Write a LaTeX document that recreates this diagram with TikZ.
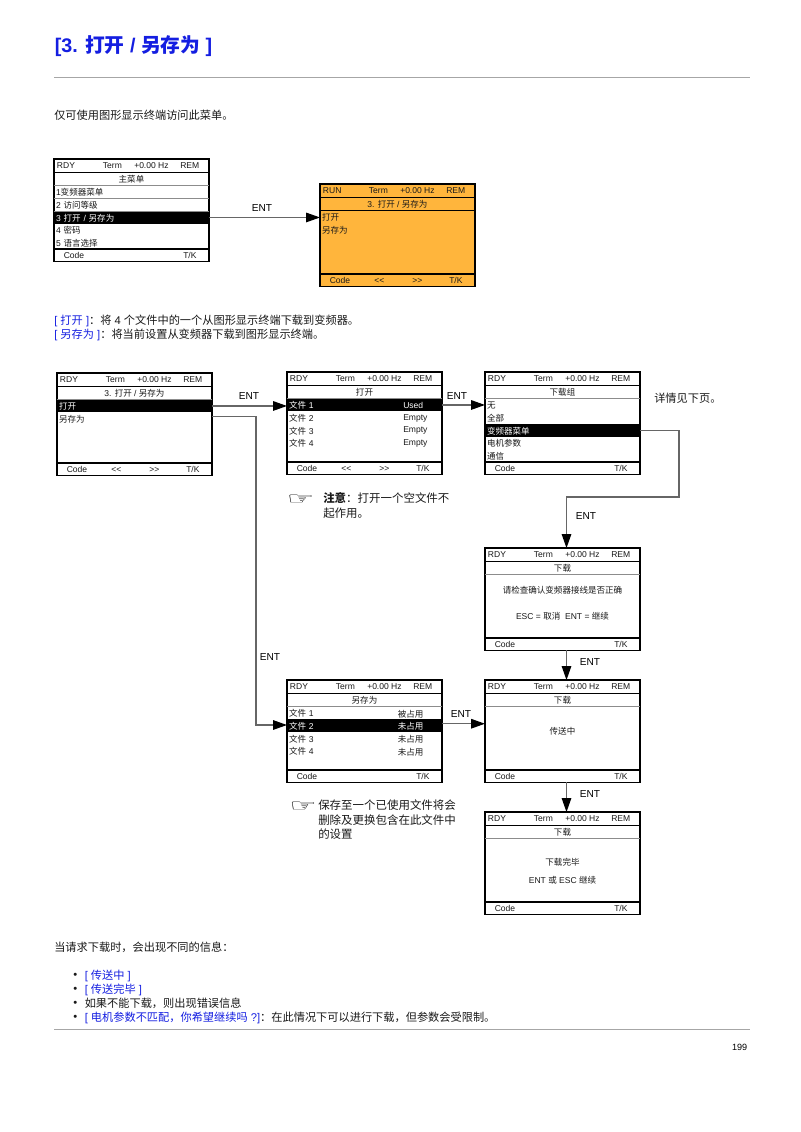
\documentclass[tikz,border=0pt]{standalone}
\usepackage{fontspec}
\setmainfont{Liberation Sans}
\newfontfamily\cjk{Noto Sans CJK SC}
\newfontfamily\symfont{DejaVu Sans}
\usetikzlibrary{arrows.meta}

\definecolor{pageblue}{RGB}{20,30,225}
\definecolor{lcdorange}{RGB}{255,181,60}

\newcommand{\zh}[1]{{\cjk #1}}

% one terminal screen: name, x, y, status, title
\newcommand{\lcdscreen}[6][white]{%
    \begin{scope}[shift={(#3,#4)}]
        \node[lcd box, fill=#1] (#2) at (0,0) {};
        \draw[lcd line] (0,13.3) -- (155,13.3);
        \draw[lcd line] (0,90) -- (155,90);
        \node[lcd text] (#2-st) at (2.7,6) {#5};
        \node[lcd text] (#2-term) at (48.7,6) {Term};
        \node[lcd text] (#2-hz) at (80,6) {+0.00 Hz};
        \node[lcd text] (#2-rem) at (126,6) {REM};
        \node[lcd title] (#2-title) at (77.5,20.4) {#6};
        \draw[title line] (#2-title.south west) -- (#2-title.south east);
        \node[lcd text] (#2-code) at (9.5,95.8) {Code};
        \node[lcd text] (#2-tk) at (129,95.8) {T/K};
    \end{scope}
}

\newcommand{\lcdarrows}[3]{%
    \begin{scope}[shift={(#2,#3)}]
        \node[lcd text] (#1-prev) at (54,95.8) {{<}{<}};
        \node[lcd text] (#1-next) at (92,95.8) {{>}{>}};
    \end{scope}
}

% one menu row: style, screen name, x, y, row number, text
\newcommand{\lcdrow}[6][lcd row]{%
    \begin{scope}[shift={(#3,#4)}]
        \node[#1, yshift={(#5-1)*-9.56pt}] (#2-r#5) at (0,26.6) {#6};
    \end{scope}
}

\begin{document}
\begin{tikzpicture}[x=0.75pt,y=-0.75pt]
    \tikzset{
        lcd box/.style={draw=black, line width=0.8pt, anchor=north west, minimum width=116.25pt, minimum height=76.8pt, inner sep=0pt, outer sep=0pt},
        lcd line/.style={draw=black, line width=0.8pt},
        title line/.style={draw=black!45, line width=0.8pt},
        lcd text/.style={anchor=west, inner sep=0pt, yshift=-0.6pt, font=\fontsize{6.4}{7.5}\selectfont, text=black!90},
        lcd title/.style={minimum width=116.25pt, minimum height=8.5pt, inner sep=0pt, outer sep=0pt, font=\fontsize{6.4}{7.5}\selectfont, text=black!90},
        lcd row/.style={anchor=north west, minimum height=9.56pt, text width=113.25pt, inner xsep=1.5pt, inner ysep=0pt, outer sep=0pt, align=left, text height=6.2pt, text depth=0.7pt, font=\fontsize{6.4}{7.5}\selectfont, text=black!90},
        lcd sel/.style={lcd row, fill=black, text=white},
        ent arrow/.style={draw=black!60, line width=0.85pt, -{Triangle[color=black, fill=black, length=10.5pt, width=7.2pt]}},
        ent label/.style={inner sep=0pt, font=\fontsize{7.6}{9}\selectfont},
        body text/.style={anchor=west, inner sep=0pt, align=left, yshift=-0.6pt, font=\fontsize{8.4}{10.8}\selectfont, text=black!90},
        note text/.style={body text, font=\fontsize{8.6}{10.9}\selectfont},
        blue text/.style={body text, text=pageblue},
        hand/.style={inner sep=0pt, font=\symfont\fontsize{20}{20}\selectfont},
        page rule/.style={draw=black!35, line width=0.75pt},
    }

    \useasboundingbox (0,0) rectangle (800,1132);
    \fill[white] (0,0) rectangle (800,1132);

    % page head
    \node[anchor=west, inner sep=0pt, text=pageblue, font=\bfseries\fontsize{14.8}{16}\selectfont] (pageTitle) at (54.5,46)
        {[3. {\cjk\bfseries 打开} / {\cjk\bfseries 另存为} ]};
    \coordinate (ruleTopL) at (54,77);
    \coordinate (ruleTopR) at (750,77);
    \draw[page rule] (ruleTopL) -- (ruleTopR);
    \node[body text] (introLine) at (54,114.5) {\zh{仅可使用图形显示终端访问此菜单。}};

    % first pair
    \lcdscreen{scrMain}{54}{159}{RDY}{\zh{主菜单}}
    \lcdrow{scrMain}{54}{159}{1}{1\zh{变频器菜单}}
    \lcdrow{scrMain}{54}{159}{2}{2 \zh{访问等级}}
    \lcdrow[lcd sel]{scrMain}{54}{159}{3}{3 \zh{打开} / \zh{另存为}}
    \lcdrow{scrMain}{54}{159}{4}{4 \zh{密码}}
    \lcdrow{scrMain}{54}{159}{5}{5 \zh{语言选择}}
    \draw[title line] (scrMain-r1.south west) -- (scrMain-r1.south east);
    \draw[title line] (scrMain-r2.south west) -- (scrMain-r2.south east);

    \lcdscreen[lcdorange]{scrOrange}{320}{184}{RUN}{3. \zh{打开} / \zh{另存为}}
    \lcdarrows{scrOrange}{320}{184}
    \draw[lcd line] (scrOrange-title.south west) -- (scrOrange-title.south east);
    \lcdrow{scrOrange}{320}{184}{1}{\zh{打开}}
    \lcdrow{scrOrange}{320}{184}{2}{\zh{另存为}}

    \draw[ent arrow] (scrMain-r3.east) -- (scrMain-r3.east -| scrOrange.west);
    \node[ent label] (entA) at (262,208) {ENT};

    \node[body text] (openLine) at (54,320) {{\color{pageblue}[ \zh{打开} ]}\zh{：将} 4 \zh{个文件中的一个从图形显示终端下载到变频器。}};
    \node[body text] (saveLine) at (54,334) {{\color{pageblue}[ \zh{另存为} ]}\zh{：将当前设置从变频器下载到图形显示终端。}};

    % open / save as menu
    \lcdscreen{scrFile}{57}{373}{RDY}{3. \zh{打开} / \zh{另存为}}
    \lcdarrows{scrFile}{57}{373}
    \lcdrow[lcd sel]{scrFile}{57}{373}{1}{\zh{打开}}
    \lcdrow{scrFile}{57}{373}{2}{\zh{另存为}}

    % open branch
    \lcdscreen{scrOpen}{287}{372}{RDY}{\zh{打开}}
    \lcdarrows{scrOpen}{287}{372}
    \lcdrow[lcd sel]{scrOpen}{287}{372}{1}{\zh{文件} 1}
    \lcdrow{scrOpen}{287}{372}{2}{\zh{文件} 2}
    \lcdrow{scrOpen}{287}{372}{3}{\zh{文件} 3}
    \lcdrow{scrOpen}{287}{372}{4}{\zh{文件} 4}
    \node[lcd text, text=white] (openUsed) at (403,404.5) {Used};
    \node[lcd text] (openEmptyB) at (403,417.5) {Empty};
    \node[lcd text] (openEmptyC) at (403,430) {Empty};
    \node[lcd text] (openEmptyD) at (403,443) {Empty};

    \lcdscreen{scrGroup}{485}{372}{RDY}{\zh{下载组}}
    \lcdrow{scrGroup}{485}{372}{1}{\zh{无}}
    \lcdrow{scrGroup}{485}{372}{2}{\zh{全部}}
    \lcdrow[lcd sel]{scrGroup}{485}{372}{3}{\zh{变频器菜单}}
    \lcdrow{scrGroup}{485}{372}{4}{\zh{电机参数}}
    \lcdrow{scrGroup}{485}{372}{5}{\zh{通信}}
    \node[body text] (seeNext) at (654,397) {\zh{详情见下页。}};

    \lcdscreen{scrCheck}{485}{548}{RDY}{\zh{下载}}
    \node[lcd title] (checkLineA) at (562.5,590) {\zh{请检查确认变频器接线是否正确}};
    \node[lcd title] (checkLineB) at (562.5,616) {ESC = \zh{取消}\ \ ENT = \zh{继续}};

    \lcdscreen{scrBusy}{485}{680}{RDY}{\zh{下载}}
    \node[lcd title] (busyLine) at (562.5,731) {\zh{传送中}};

    \lcdscreen{scrDone}{485}{812}{RDY}{\zh{下载}}
    \node[lcd title] (doneLineA) at (562.5,862.5) {\zh{下载完毕}};
    \node[lcd title] (doneLineB) at (562.5,880) {ENT \zh{或} ESC \zh{继续}};

    % save branch
    \lcdscreen{scrSave}{287}{680}{RDY}{\zh{另存为}}
    \lcdrow{scrSave}{287}{680}{1}{\zh{文件} 1}
    \lcdrow[lcd sel]{scrSave}{287}{680}{2}{\zh{文件} 2}
    \lcdrow{scrSave}{287}{680}{3}{\zh{文件} 3}
    \lcdrow{scrSave}{287}{680}{4}{\zh{文件} 4}
    \node[lcd text] (saveUsed) at (397.5,713) {\zh{被占用}};
    \node[lcd text, text=white] (saveFreeB) at (397.5,725.5) {\zh{未占用}};
    \node[lcd text] (saveFreeC) at (397.5,738) {\zh{未占用}};
    \node[lcd text] (saveFreeD) at (397.5,751) {\zh{未占用}};

    % connectors
    \draw[ent arrow] (scrFile-r1.east) -- (scrFile-r1.east -| scrOpen.west);
    \node[ent label] (entB) at (249,396) {ENT};
    \draw[ent arrow] (scrOpen-r1.east) -- (scrOpen-r1.east -| scrGroup.west);
    \node[ent label] (entC) at (457,396) {ENT};

    \coordinate (groupOut) at (679,497);
    \coordinate (groupBack) at (566.5,497);
    \draw[ent arrow] (scrGroup-r3.east) -| (groupOut) -- (groupBack) -- (groupBack |- scrCheck.north);
    \node[ent label] (entD) at (586,516) {ENT};
    \draw[ent arrow] ([xshift=3pt]scrCheck.south) -- ([xshift=3pt]scrBusy.north);
    \node[ent label] (entE) at (590,662) {ENT};
    \draw[ent arrow] ([xshift=3pt]scrBusy.south) -- ([xshift=3pt]scrDone.north);
    \node[ent label] (entF) at (590,794) {ENT};

    \coordinate (saveBend) at (256,725);
    \draw[ent arrow] ([yshift=1.5pt]scrFile-r2.east) -| (saveBend) -- (saveBend -| scrSave.west);
    \node[ent label] (entG) at (270,657) {ENT};
    \draw[ent arrow] ([yshift=1.5pt]scrSave-r2.east) -- ([yshift=1.5pt]scrSave-r2.east -| scrBusy.west);
    \node[ent label] (entH) at (461,714) {ENT};

    % remarks
    \node[hand] (handOpen) at (300.5,500) {\scalebox{1.15}[0.62]{☞}};
    \node[note text] (noteOpen) at (323,504.5) {{\cjk\bfseries 注意}\zh{：打开一个空文件不}\\\zh{起作用。}};
    \node[hand] (handSave) at (303,807) {\scalebox{1.15}[0.62]{☞}};
    \node[note text] (noteSave) at (318,819) {\zh{保存至一个已使用文件将会}\\\zh{删除及更换包含在此文件中}\\\zh{的设置}};

    % list at the foot
    \node[body text] (listIntro) at (54,947) {\zh{当请求下载时，会出现不同的信息：}};
    \node[body text] (dotA) at (73,975) {•};
    \node[blue text] (itemA) at (84.5,975) {[ \zh{传送中} ]};
    \node[body text] (dotB) at (73,989) {•};
    \node[blue text] (itemB) at (84.5,989) {[ \zh{传送完毕} ]};
    \node[body text] (dotC) at (73,1003) {•};
    \node[body text] (itemC) at (84.5,1003) {\zh{如果不能下载，则出现错误信息}};
    \node[body text] (dotD) at (73,1017) {•};
    \node[body text] (itemD) at (84.5,1017) {{\color{pageblue}[ \zh{电机参数不匹配，你希望继续吗} ?]}\zh{：在此情况下可以进行下载，但参数会受限制。}};

    \coordinate (ruleFootL) at (54,1029);
    \coordinate (ruleFootR) at (750,1029);
    \draw[page rule] (ruleFootL) -- (ruleFootR);
    \node[inner sep=0pt, anchor=east, font=\fontsize{6.8}{8}\selectfont] (pageNum) at (747.5,1047) {199};
\end{tikzpicture}
\end{document}
